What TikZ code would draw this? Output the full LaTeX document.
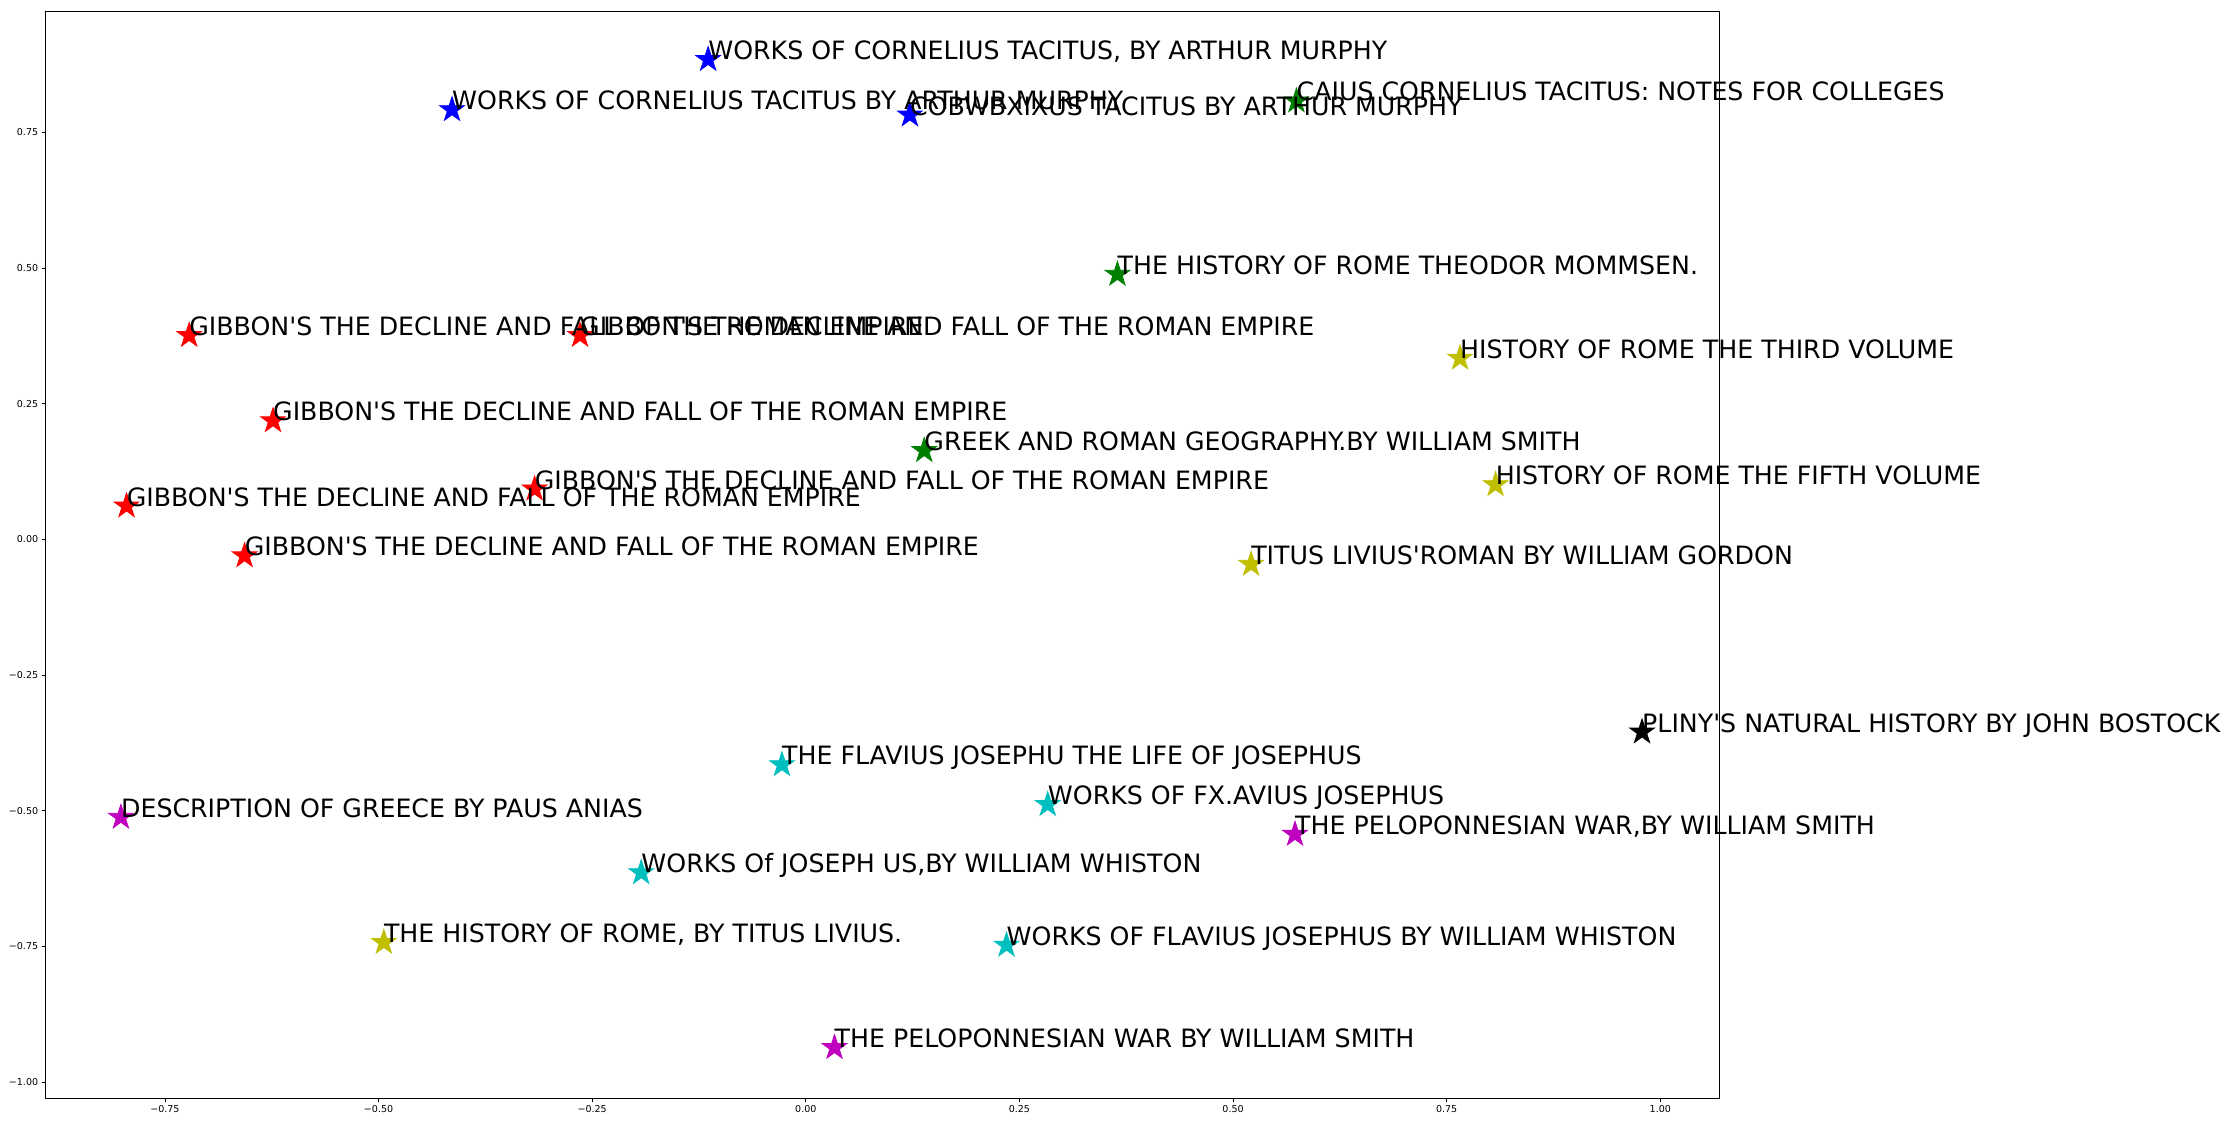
\documentclass[tikz,border=0pt]{standalone}
\usepackage{fontspec}
\setmainfont{DejaVu Sans}
\usetikzlibrary{shapes.geometric}
\definecolor{mb}{rgb}{0,0,1}
\definecolor{mg}{rgb}{0,0.5,0}
\definecolor{mr}{rgb}{1,0,0}
\definecolor{mc}{rgb}{0,0.75,0.75}
\definecolor{mm}{rgb}{0.75,0,0.75}
\definecolor{my}{rgb}{0.75,0.75,0}
\definecolor{mk}{rgb}{0,0,0}
\newcommand{\aq}{\textquotesingle}
\begin{document}
\begin{tikzpicture}[x=1pt,y=1pt,
  pt/.style={star, star points=5, star point ratio=2.618, minimum size=26pt,
    inner sep=0pt, draw=#1, line width=0.8pt, fill=#1},
  lbl/.style={anchor=base west, inner sep=0pt, text=black,
    font=\fontsize{25.25}{30}\selectfont},
  tk/.style={font=\fontsize{9.5}{11}\selectfont, inner sep=0pt, text=black},
  spine/.style={draw=black, line width=0.8pt}]
\useasboundingbox[fill=white] (0,0) rectangle (2229,-1122);
\coordinate (axll) at (45.3,-1098);
\coordinate (axur) at (1719.4,-11);
\begin{scope}[shift={(805.8pt,-539.3pt)}, x=854.5pt, y=542.7pt]
  % stars
  \node[pt=mb] (s1) at (-0.1143,0.8841) {};
  \node[pt=mb] (s2) at (-0.4140,0.7915) {};
  \node[pt=mb] (s3) at (0.1218,0.7818) {};
  \node[pt=mg] (s4) at (0.5742,0.8077) {};
  \node[pt=mg] (s5) at (0.3647,0.4882) {};
  \node[pt=mr] (s6) at (-0.7216,0.3756) {};
  \node[pt=mr] (s7) at (-0.2642,0.3756) {};
  \node[pt=mr] (s8) at (-0.6235,0.2184) {};
  \node[pt=mr] (s9) at (-0.3174,0.0927) {};
  \node[pt=mr] (s10) at (-0.7949,0.0613) {};
  \node[pt=mr] (s11) at (-0.6568,-0.0304) {};
  \node[pt=my] (s12) at (0.7656,0.3337) {};
  \node[pt=mg] (s13) at (0.1386,0.1634) {};
  \node[pt=my] (s14) at (0.8072,0.1006) {};
  \node[pt=my] (s15) at (0.5211,-0.0461) {};
  \node[pt=mk] (s16) at (0.9786,-0.3551) {};
  \node[pt=mc] (s17) at (-0.0279,-0.4154) {};
  \node[pt=mm] (s18) at (-0.8015,-0.5123) {};
  \node[pt=mc] (s19) at (0.2831,-0.4887) {};
  \node[pt=mm] (s20) at (0.5725,-0.5437) {};
  \node[pt=mc] (s21) at (-0.1926,-0.6144) {};
  \node[pt=my] (s22) at (-0.4938,-0.7428) {};
  \node[pt=mc] (s23) at (0.2349,-0.7480) {};
  \node[pt=mm] (s24) at (0.0336,-0.9366) {};
\end{scope}
% frame
\draw[spine] (axll) rectangle (axur);
% x ticks
\foreach \v/\lab [count=\i] in {-0.75/−0.75,-0.50/−0.50,-0.25/−0.25,0/0.00,0.25/0.25,0.50/0.50,0.75/0.75,1.00/1.00}{
  \coordinate (xt\i) at ({805.8+854.5*\v},-1098);
  \draw[spine] (xt\i) -- ++(0,-3.5);
  \node[tk, anchor=north] (xl\i) at ([yshift=-7pt]xt\i) {\lab};
}
% y ticks
\foreach \v/\lab [count=\i] in {0.75/0.75,0.50/0.50,0.25/0.25,0/0.00,-0.25/−0.25,-0.50/−0.50,-0.75/−0.75,-1.00/−1.00}{
  \coordinate (yt\i) at (45.3,{-539.3+542.7*\v});
  \draw[spine] (yt\i) -- ++(-3.5,0);
  \node[tk, anchor=east] (yl\i) at ([xshift=-7pt]yt\i) {\lab};
}
% labels
\node[lbl] (t1) at (s1.center) {WORKS OF CORNELIUS TACITUS, BY ARTHUR MURPHY};
\node[lbl] (t2) at (s2.center) {WORKS OF CORNELIUS TACITUS BY ARTHUR MURPHY};
\node[lbl] (t3) at (s3.center) {COBWBXIXUS TACITUS BY ARTHUR MURPHY};
\node[lbl] (t4) at (s4.center) {CAIUS CORNELIUS TACITUS: NOTES FOR COLLEGES};
\node[lbl] (t5) at (s5.center) {THE HISTORY OF ROME THEODOR MOMMSEN.};
\node[lbl] (t6) at (s6.center) {GIBBON\aq S THE DECLINE AND FALL OF THE ROMAN EMPIRE};
\node[lbl] (t7) at (s7.center) {GIBBON\aq S THE DECLINE AND FALL OF THE ROMAN EMPIRE};
\node[lbl] (t8) at (s8.center) {GIBBON\aq S THE DECLINE AND FALL OF THE ROMAN EMPIRE};
\node[lbl] (t9) at (s9.center) {GIBBON\aq S THE DECLINE AND FALL OF THE ROMAN EMPIRE};
\node[lbl] (t10) at (s10.center) {GIBBON\aq S THE DECLINE AND FALL OF THE ROMAN EMPIRE};
\node[lbl] (t11) at (s11.center) {GIBBON\aq S THE DECLINE AND FALL OF THE ROMAN EMPIRE};
\node[lbl] (t12) at (s12.center) {HISTORY OF ROME THE THIRD VOLUME};
\node[lbl] (t13) at (s13.center) {GREEK AND ROMAN GEOGRAPHY.BY WILLIAM SMITH};
\node[lbl] (t14) at (s14.center) {HISTORY OF ROME THE FIFTH VOLUME};
\node[lbl] (t15) at (s15.center) {TITUS LIVIUS\aq ROMAN BY WILLIAM GORDON};
\node[lbl] (t16) at (s16.center) {PLINY\aq S NATURAL HISTORY BY JOHN BOSTOCK};
\node[lbl] (t17) at (s17.center) {THE FLAVIUS JOSEPHU THE LIFE OF JOSEPHUS};
\node[lbl] (t18) at (s18.center) {DESCRIPTION OF GREECE BY PAUS ANIAS};
\node[lbl] (t19) at (s19.center) {WORKS OF FX.AVIUS JOSEPHUS};
\node[lbl] (t20) at (s20.center) {THE PELOPONNESIAN WAR,BY WILLIAM SMITH};
\node[lbl] (t21) at (s21.center) {WORKS Of JOSEPH US,BY WILLIAM WHISTON};
\node[lbl] (t22) at (s22.center) {THE HISTORY OF ROME, BY TITUS LIVIUS.};
\node[lbl] (t23) at (s23.center) {WORKS OF FLAVIUS JOSEPHUS BY WILLIAM WHISTON};
\node[lbl] (t24) at (s24.center) {THE PELOPONNESIAN WAR BY WILLIAM SMITH};
\end{tikzpicture}
\end{document}
